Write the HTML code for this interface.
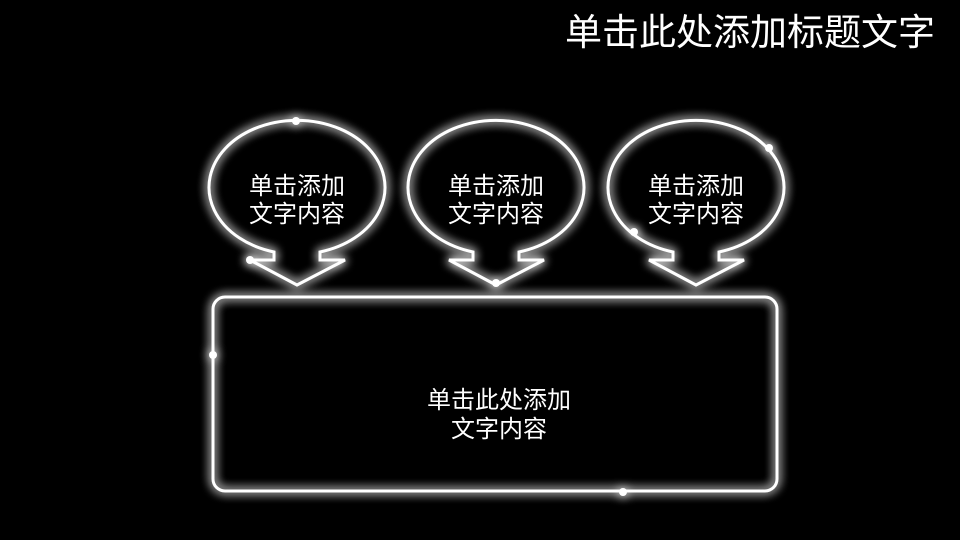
<!DOCTYPE html>
<html><head><meta charset="utf-8"><style>
html,body{margin:0;padding:0;background:#000;width:960px;height:540px;overflow:hidden}
svg{display:block}
text{font-family:"Liberation Sans","Noto Sans CJK SC",sans-serif;fill:#fff}
</style></head><body>
<svg width="960" height="540" viewBox="0 0 960 540">
<defs>
<filter id="g" x="-20%" y="-20%" width="140%" height="140%">
<feGaussianBlur stdDeviation="5" result="b"/>
<feMerge><feMergeNode in="b"/><feMergeNode in="b"/><feMergeNode in="SourceGraphic"/></feMerge>
</filter>
<path id="bub" d="M-23,252 A88,67 0 1 1 23,252 L23,260 L48,260 L0,285 L-47,260 L-23,260 Z" fill="none" stroke="#fff" stroke-width="3"/>
</defs>
<rect width="960" height="540" fill="#000"/>
<text x="935" y="45" font-size="37" text-anchor="end">单击此处添加标题文字</text>
<g filter="url(#g)">
<use href="#bub" x="297"/>
<use href="#bub" x="496"/>
<use href="#bub" x="696"/>
<rect x="213" y="297" width="564" height="194" rx="12" fill="none" stroke="#fff" stroke-width="3"/>
<circle cx="296" cy="121" r="4" fill="#fff"/>
<circle cx="250" cy="260" r="4" fill="#fff"/>
<circle cx="496" cy="283" r="4" fill="#fff"/>
<circle cx="634" cy="232" r="4" fill="#fff"/>
<circle cx="769" cy="148" r="4" fill="#fff"/>
<circle cx="213" cy="355" r="4" fill="#fff"/>
<circle cx="623" cy="492" r="4" fill="#fff"/>
</g>
<g font-size="24" text-anchor="middle">
<text x="297" y="194">单击添加</text><text x="297" y="222">文字内容</text>
<text x="496" y="194">单击添加</text><text x="496" y="222">文字内容</text>
<text x="696" y="194">单击添加</text><text x="696" y="222">文字内容</text>
<text x="499" y="408">单击此处添加</text><text x="499" y="437">文字内容</text>
</g>
</svg>
</body></html>
